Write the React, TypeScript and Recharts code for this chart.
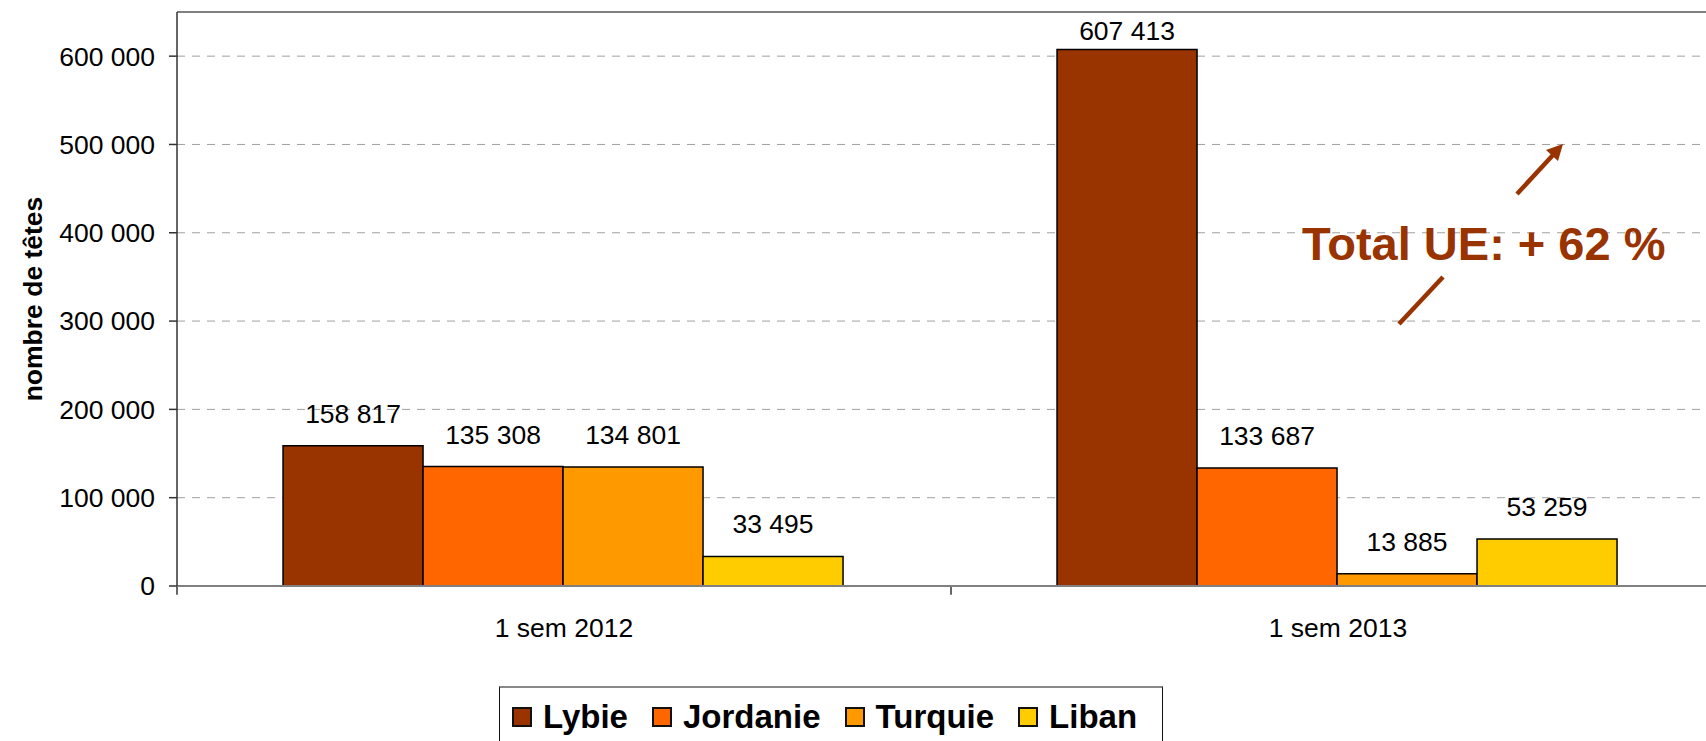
import { BarChart, Bar, XAxis, YAxis, CartesianGrid, ReferenceLine, LabelList } from 'recharts'

const PERIODS = ['1 sem 2012', '1 sem 2013']
const LYBIE = [158817, 607413]
const JORDANIE = [135308, 133687]
const TURQUIE = [134801, 13885]
const LIBAN = [33495, 53259]
const Y_TICKS = [0, 100000, 200000, 300000, 400000, 500000, 600000]

const SERIES = [
  { key: 'Lybie', values: LYBIE, color: '#993300' },
  { key: 'Jordanie', values: JORDANIE, color: '#FF6600' },
  { key: 'Turquie', values: TURQUIE, color: '#FF9900' },
  { key: 'Liban', values: LIBAN, color: '#FFCC00' },
]

const FONT = "'Liberation Sans', Arial, sans-serif"
const BROWN = '#993300'

// thousands with a plain space, french style
const fmt = (n: number) => String(n).replace(/\B(?=(\d{3})+(?!\d))/g, ' ')

const data = PERIODS.map((period, i) => {
  const row: Record<string, string | number> = { period }
  SERIES.forEach(s => { row[s.key] = s.values[i] })
  return row
})

function ValueLabel(props: any) {
  const vb = props.viewBox ?? props
  const x = vb.x ?? props.x
  const y = vb.y ?? props.y
  const w = vb.width ?? props.width
  // excel pushes the top label down so it stays inside the plot
  const baseline = Math.max(y - 23, 40)
  return (
    <text x={x + w / 2} y={baseline} textAnchor="middle" fontSize={26.5} fill="#000" fontFamily={FONT}>
      {fmt(Number(props.value))}
    </text>
  )
}

function YTitle(props: any) {
  const vb = props.viewBox
  const cx = vb.x + 42
  const cy = vb.y + vb.height / 2
  return (
    <text x={cx} y={cy} transform={`rotate(-90, ${cx}, ${cy})`} textAnchor="middle"
      fontSize={26.5} fontWeight="bold" fill="#000" fontFamily={FONT}>
      nombre de têtes
    </text>
  )
}

export default function App() {
  return (
    <div style={{ position: 'relative', width: 1750, height: 760, fontFamily: FONT, background: '#fff' }}>
      <style>{'body{margin:0;overflow:hidden;background:#fff}'}</style>
      <BarChart width={1750} height={760} data={data} margin={{ top: 12, right: 25, bottom: 114, left: 0 }}
        barCategoryGap="13.7%" barGap={0}>
        <CartesianGrid vertical={false} stroke="#a0a0a0" strokeDasharray="8 7" />
        <XAxis dataKey="period" height={60} tickLine={false} tickSize={0} tickMargin={32}
          axisLine={{ stroke: '#808080', strokeWidth: 2 }}
          tick={{ fontSize: 26.5, fill: '#000' }} />
        <YAxis width={177} domain={[0, 650000]} ticks={Y_TICKS} interval={0} tickFormatter={fmt}
          tickSize={8} tickMargin={14}
          axisLine={{ stroke: '#333', strokeWidth: 1.5 }} tickLine={{ stroke: '#333', strokeWidth: 1.5 }}
          tick={{ fontSize: 26.5, fill: '#000' }}
          label={{ content: (p: any) => <YTitle {...p} /> }} />
        <ReferenceLine y={650000} stroke="#808080" strokeWidth={2} />
        <ReferenceLine segment={[{ x: PERIODS[0], y: 0 }, { x: PERIODS[0], y: -10000 }]} position="start"
          ifOverflow="visible" stroke="#333" strokeWidth={1.5} />
        <ReferenceLine segment={[{ x: PERIODS[0], y: 0 }, { x: PERIODS[0], y: -10000 }]} position="end"
          ifOverflow="visible" stroke="#333" strokeWidth={1.5} />
        {SERIES.map(s => (
          <Bar key={s.key} dataKey={s.key} fill={s.color} stroke="#000" strokeWidth={1.5} isAnimationActive={false}>
            <LabelList dataKey={s.key} content={(p: any) => <ValueLabel {...p} />} />
          </Bar>
        ))}
      </BarChart>

      {/* annotation */}
      <svg width={1750} height={760} style={{ position: 'absolute', left: 0, top: 0, pointerEvents: 'none' }}>
        <line x1={1517} y1={194} x2={1553} y2={155} stroke={BROWN} strokeWidth={4.5} />
        <polygon points="1563,144 1558,161 1546,150" fill={BROWN} />
        <line x1={1443} y1={277} x2={1399} y2={324} stroke={BROWN} strokeWidth={4.5} />
        <text x={1302} y={260} fontSize={47} fontWeight="bold" fill={BROWN} fontFamily={FONT}>
          Total UE: + 62 %
        </text>
      </svg>

      {/* legend */}
      <div style={{
        position: 'absolute', left: 499, top: 686, width: 664, height: 70, boxSizing: 'border-box',
        border: '1.5px solid #111', borderTop: '2px solid #888', background: '#fff',
        display: 'flex', alignItems: 'flex-start', paddingTop: 19, paddingLeft: 12, gap: 24,
      }}>
        {SERIES.map(s => (
          <div key={s.key} style={{ display: 'flex', alignItems: 'center', height: 20, gap: 11 }}>
            <div style={{ width: 20, height: 20, boxSizing: 'border-box', border: '2px solid #111', background: s.color }} />
            <span style={{ fontSize: 33, fontWeight: 'bold', lineHeight: '20px', color: '#000' }}>{s.key}</span>
          </div>
        ))}
      </div>
    </div>
  )
}
